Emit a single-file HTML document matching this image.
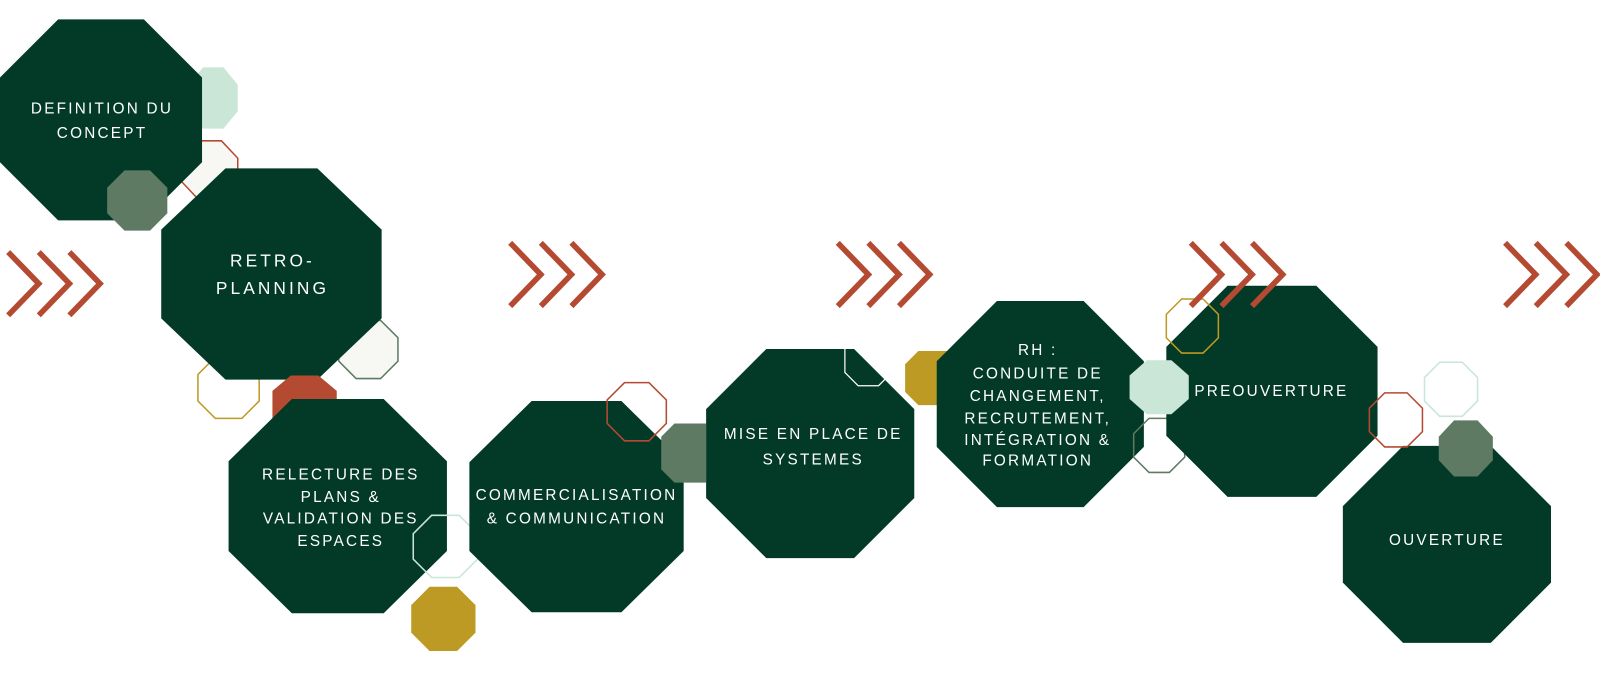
<!DOCTYPE html>
<html><head><meta charset="utf-8"><style>
html,body{margin:0;padding:0;background:#fff;width:1600px;height:680px;overflow:hidden}
text{font-family:"Liberation Sans",sans-serif;font-size:15px;fill:#fff;letter-spacing:2.2px;text-anchor:middle;font-weight:500}
</style></head><body>
<svg width="1600" height="680" xmlns="http://www.w3.org/2000/svg">
<g transform="scale(1.0204)">
<g>
<polygon fill="#c9e6d6" points="199,66 219,66 233,83 233,109 219,126 199,126 185,109 185,83"/>
<polygon fill="#f7f8f4" stroke="#b54a32" stroke-width="1.5" points="194,138 217,138 233,155 233,178 217,195 194,195 178,178 178,155"/>
<polygon fill="#023a27" points="57,19 141,19 198,76 198,159 141,216 57,216 0,159 0,76"/>
<polygon fill="#5e7a63" points="122,167 147,167 164,184 164,209 147,226 122,226 105,209 105,184"/>
<polygon fill="#f7f8f4" stroke="#5e7a63" stroke-width="1.5" points="349,314 373,314 390,331 390,354 373,371 349,371 332,354 332,331"/>
<polygon fill="#fff" stroke="#bc9a23" stroke-width="1.5" points="211,350 237,350 254,367 254,393 237,410 211,410 194,393 194,367"/>
<polygon fill="#023a27" points="221,165 311,165 374,225 374,312 311,372 221,372 158,312 158,225"/>
<polygon fill="#b54a32" points="285,368 312,368 330,383 330,418 267,418 267,383"/>
<polygon fill="#023a27" points="286,391 376,391 438,452 438,540 376,601 286,601 224,540 224,452"/>
<polygon fill="none" stroke="#c9e6d6" stroke-width="1.5" points="423,505 450,505 468,523 468,548 450,566 423,566 405,548 405,523"/>
<polygon fill="#bc9a23" points="421,575 448,575 466,593 466,620 448,638 421,638 403,620 403,593"/>
<polygon fill="#023a27" points="521,393 609,393 670,453 670,540 609,600 521,600 460,540 460,453"/>
<polygon fill="none" stroke="#b54a32" stroke-width="1.5" points="612,375 636,375 653,392 653,415 636,432 612,432 595,415 595,392"/>
<polygon fill="#5e7a63" points="661,415 692,415 692,473 661,473 648,460 648,428"/>
<polygon fill="#023a27" points="751,342 837,342 896,401 896,488 837,547 751,547 692,488 692,401"/>
<polyline fill="none" stroke="#fff" stroke-width="1.2" points="828,342 828,365 841,378 861,378 868,371"/>
<polygon fill="#bc9a23" points="900,344 930,344 930,397 900,397 887,384 887,357"/>
<polygon fill="#023a27" points="977,295 1062,295 1121,354 1121,438 1062,497 977,497 918,438 918,354"/>
<polygon fill="none" stroke="#5e7a63" stroke-width="1.5" points="1126,410 1146,410 1161,425 1161,448 1146,463 1126,463 1111,448 1111,425"/>
<polygon fill="#023a27" points="1203,280 1290,280 1350,340 1350,427 1290,487 1203,487 1143,427 1143,340"/>
<polygon fill="#c9e6d6" points="1124,353 1148,353 1165,368 1165,391 1148,406 1124,406 1107,391 1107,368"/>
<polygon fill="none" stroke="#bc9a23" stroke-width="1.5" points="1158,293 1179,293 1194,308 1194,331 1179,346 1158,346 1143,331 1143,308"/>
<polygon fill="#023a27" points="1375,437 1461,437 1520,496 1520,571 1461,630 1375,630 1316,571 1316,496"/>
<polygon fill="none" stroke="#b54a32" stroke-width="1.5" points="1357,385 1379,385 1394,400 1394,423 1379,438 1357,438 1342,423 1342,400"/>
<polygon fill="none" stroke="#c9e6d6" stroke-width="1.5" points="1411,355 1433,355 1448,370 1448,393 1433,408 1411,408 1396,393 1396,370"/>
<polygon fill="#5e7a63" points="1425,412 1448,412 1463,428 1463,451 1448,467 1425,467 1410,451 1410,428"/>
</g>
<g fill="none" stroke="#b54a32" stroke-width="5.5">
<polyline points="8,247 38,278 8,309"/><polyline points="38,247 68,278 38,309"/><polyline points="68,247 98,278 68,309"/>
<polyline points="500,238 530,269 500,300"/><polyline points="530,238 560,269 530,300"/><polyline points="560,238 590,269 560,300"/>
<polyline points="821,238 851,269 821,300"/><polyline points="851,238 881,269 851,300"/><polyline points="881,238 911,269 881,300"/>
<polyline points="1167,238 1197,269 1167,300"/><polyline points="1197,238 1227,269 1197,300"/><polyline points="1227,238 1257,269 1227,300"/>
<polyline points="1475,238 1505,269 1475,300"/><polyline points="1505,238 1535,269 1505,300"/><polyline points="1535,238 1565,269 1535,300"/>
</g>
<text x="100" y="111">DEFINITION DU</text>
<text x="100" y="135">CONCEPT</text>
<text x="267" y="261" style="font-size:17px;letter-spacing:3px">RETRO-</text>
<text x="267" y="288" style="font-size:17px;letter-spacing:3px">PLANNING</text>
<text x="334" y="470">RELECTURE DES</text>
<text x="334" y="492">PLANS &amp;</text>
<text x="334" y="513">VALIDATION DES</text>
<text x="334" y="535">ESPACES</text>
<text x="565" y="490">COMMERCIALISATION</text>
<text x="565" y="513">&amp; COMMUNICATION</text>
<text x="797" y="430">MISE EN PLACE DE</text>
<text x="797" y="455">SYSTEMES</text>
<text x="1017" y="348">RH :</text>
<text x="1017" y="371">CONDUITE DE</text>
<text x="1017" y="393">CHANGEMENT,</text>
<text x="1017" y="415">RECRUTEMENT,</text>
<text x="1017" y="436">INTÉGRATION &amp;</text>
<text x="1017" y="456">FORMATION</text>
<text x="1246" y="388">PREOUVERTURE</text>
<text x="1418" y="534">OUVERTURE</text>
</g>
</svg>
</body></html>
